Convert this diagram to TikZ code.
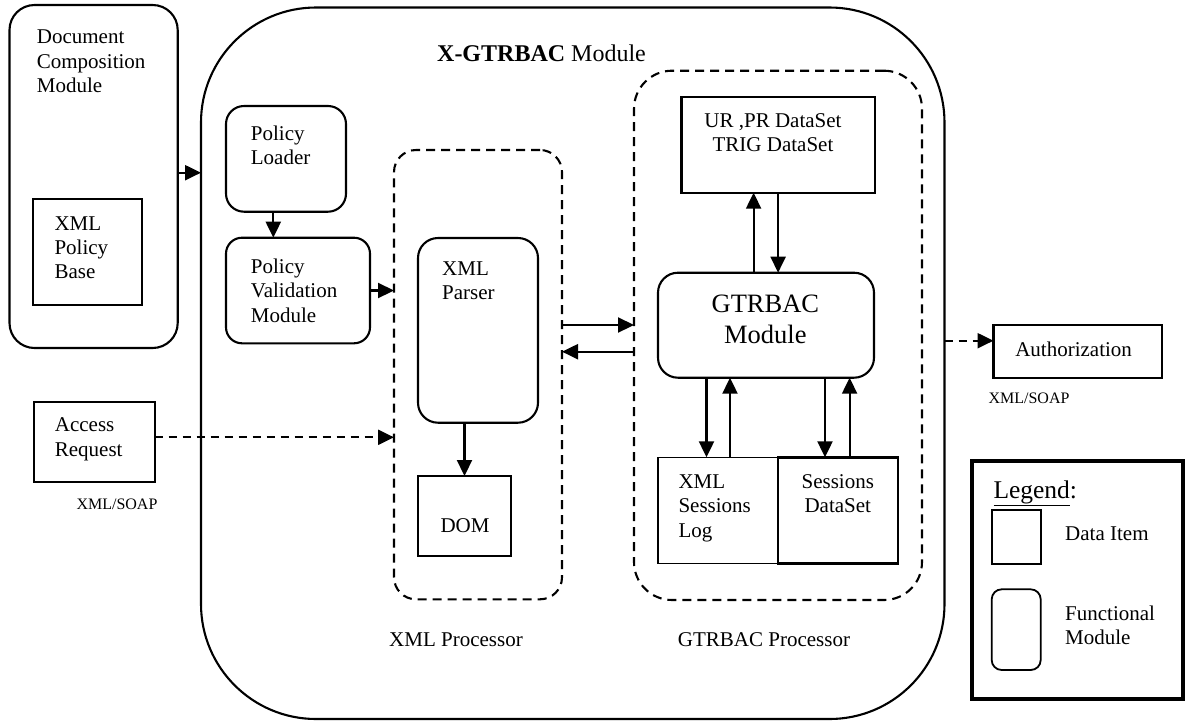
\documentclass[tikz,border=0pt]{standalone}
\usepackage{fontspec}
\setmainfont{Liberation Serif}
\usetikzlibrary{arrows.meta}
\newcommand{\fsn}{\fontsize{21}{24.4}\selectfont}
\newcommand{\fss}{\fontsize{16}{19}\selectfont}
\newcommand{\fsb}{\fontsize{26.5}{31}\selectfont}
\begin{document}
\begin{tikzpicture}[x=1pt,y=-1pt,
  box/.style={draw, line width=2.1pt, inner sep=0pt, outer sep=0pt, rectangle},
  rbox/.style={box, rounded corners=#1},
  dbox/.style={box, dash pattern=on 9pt off 6pt, rounded corners=#1},
  txt/.style={inner sep=0pt, font=\fsn, align=left, anchor=north west},
  ctxt/.style={inner sep=0pt, font=\fsn, align=center, anchor=north},
  btxt/.style={inner sep=0pt, font=\fsn, anchor=base},
  stxt/.style={inner sep=0pt, font=\fss, anchor=base},
  arr/.style={line width=2.2pt, -{Triangle[length=16pt,width=15pt]}},
  darr/.style={arr, dash pattern=on 8pt off 6pt},
]
\useasboundingbox (0,0) rectangle (1186,721);

% main containers
\node[rbox=115pt, minimum width=743.5pt, minimum height=711.5pt] (big) at (572.75,363.25) {};
\node[rbox=25pt, minimum width=168.2pt, minimum height=343pt] (dcm) at (93.6,176.5) {};
\node[box, minimum width=109pt, minimum height=105.7pt] (xpb) at (87.8,252.2) {};

% left column of the X-GTRBAC module
\node[rbox=18pt, minimum width=120pt, minimum height=105.7pt] (pl) at (286,158.85) {};
\node[rbox=16pt, minimum width=144pt, minimum height=105.6pt] (pvm) at (298,290.5) {};

% XML processor
\node[dbox=22pt, minimum width=168pt, minimum height=449.3pt] (xproc) at (478,374.65) {};
\node[rbox=20pt, minimum width=120pt, minimum height=184.7pt] (parser) at (478,330.35) {};
\node[box, minimum width=93pt, minimum height=80pt] (dom) at (464.5,516) {};

% GTRBAC processor
\node[dbox=38pt, minimum width=288pt, minimum height=529.3pt] (gproc) at (778,335.35) {};
\node[box, minimum width=193.2pt, minimum height=96pt] (ur) at (778.1,144.7) {};
\node[rbox=20pt, minimum width=216pt, minimum height=105pt] (gm) at (766,325.2) {};
\node[box, line width=1.6pt, minimum width=120pt, minimum height=106pt] (xsl) at (718,510.3) {};
\node[box, line width=2.9pt, minimum width=120pt, minimum height=106pt] (sds) at (838,510.3) {};

% outside boxes
\node[box, minimum width=168.5pt, minimum height=52.7pt] (auth) at (1077.75,351.35) {};
\node[box, minimum width=120.9pt, minimum height=80pt] (areq) at (94.15,441.7) {};

% legend
\node[box, line width=3.6pt, minimum width=211.3pt, minimum height=238.3pt] (leg) at (1077.35,579.85) {};
\node[box, line width=1.6pt, minimum width=49pt, minimum height=54pt] (ldata) at (1016.2,537) {};
\node[rbox=10pt, line width=1.8pt, minimum width=49pt, minimum height=80.7pt] (lfunc) at (1016.2,629.65) {};

% texts
\node[btxt, font=\fontsize{24}{28}\selectfont] (title) at (541.5,61.3) {\textbf{X-GTRBAC} Module};
\node[txt] (tdcm) at (36.7,26.4) {\strut Document\\Composition\\Module};
\node[txt] (txpb) at (54.3,212.9) {\strut XML\\Policy\\Base};
\node[txt] (tpl) at (250.7,122.9) {\strut Policy\\Loader};
\node[txt] (tpvm) at (250.7,256.2) {\strut Policy\\Validation\\Module};
\node[txt] (tparser) at (442,257.9) {\strut XML\\Parser};
\node[btxt] (tdom) at (465,532) {DOM};
\node[btxt] (txproc) at (456,646.3) {XML Processor};
\node[btxt] (tgproc) at (764,646.3) {GTRBAC Processor};
\node[ctxt] (tur) at (773,110.2) {\strut UR ,PR DataSet\\TRIG DataSet};
\node[ctxt, font=\fsb] (tgm) at (765.4,290.6) {\strut GTRBAC\\Module};
\node[txt] (txsl) at (678.3,471.2) {\strut XML\\Sessions\\Log};
\node[ctxt] (tsds) at (837.8,471.2) {\strut Sessions\\DataSet};
\node[btxt] (tauth) at (1073.6,356) {Authorization};
\node[stxt] (tsoap1) at (1029,403.3) {XML/SOAP};
\node[txt] (tareq) at (54.7,414.6) {\strut Access\\Request};
\node[stxt] (tsoap2) at (117,509) {XML/SOAP};
\node[btxt, anchor=base west, font=\fontsize{25.5}{30}\selectfont] (tleg) at (993.3,498.3) {\underline{Legend}:};
\node[btxt, anchor=base west] (tldata) at (1065,540) {Data Item};
\node[txt] (tlfunc) at (1065,602.9) {\strut Functional\\Module};

% connectors
\draw[arr] (dcm.east |- 0,172.7) -- (big.west |- 0,172.7);
\draw[arr] ([xshift=-12.7pt]pl.south) -- ([xshift=-12.7pt]pl.south |- pvm.north);
\draw[arr] (pvm.east) -- (pvm.east -| xproc.west);
\draw[darr] ([yshift=4.4pt]areq.east) -- ([yshift=4.4pt]areq.east -| xproc.west);
\draw[arr] (dom.north |- parser.south) -- (dom.north);
\draw[arr] (xproc.east |- 0,325) -- (gproc.west |- 0,325);
\draw[arr] (gproc.west |- 0,351.7) -- (xproc.east |- 0,351.7);
\draw[arr] ([xshift=-12.4pt]gm.north) -- ([xshift=-12.4pt]gm.north |- ur.south);
\draw[arr] (ur.south) -- (ur.south |- gm.north);
\draw[arr] (gm.south -| 706.5,0) -- (xsl.north -| 706.5,0);
\draw[arr] (xsl.north -| 730,0) -- (gm.south -| 730,0);
\draw[arr] (gm.south -| 825,0) -- (sds.north -| 825,0);
\draw[arr] (sds.north -| 849.6,0) -- (gm.south -| 849.6,0);
\draw[darr] (big.east |- 0,340.7) -- (auth.west |- 0,340.7);
\end{tikzpicture}
\end{document}
